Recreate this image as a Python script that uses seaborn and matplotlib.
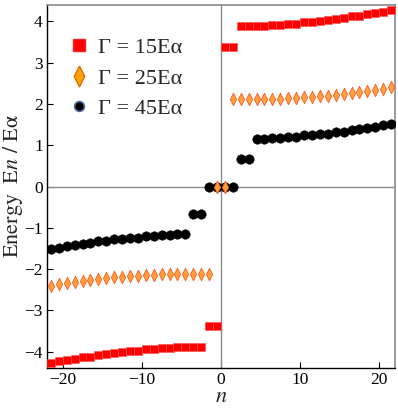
import numpy as np
import pandas as pd
import matplotlib
matplotlib.use("Agg")
import matplotlib.pyplot as plt
from matplotlib.lines import Line2D
import seaborn as sns

# ------------------------------------------------------------
# Data (n sits on half-integers)
# ------------------------------------------------------------
n_vals = [-21.5, -20.5, -19.5, -18.5, -17.5, -16.5, -15.5, -14.5, -13.5, -12.5,
          -11.5, -10.5, -9.5, -8.5, -7.5, -6.5, -5.5, -4.5, -3.5, -2.5,
          -1.5, -0.5, 0.5, 1.5,
          2.5, 3.5, 4.5, 5.5, 6.5, 7.5, 8.5, 9.5, 10.5, 11.5,
          12.5, 13.5, 14.5, 15.5, 16.5, 17.5, 18.5, 19.5, 20.5, 21.5]

# Gamma = 15 E_alpha (red squares)
energy_15 = [-4.27, -4.23, -4.20, -4.19, -4.14, -4.13, -4.09, -4.07, -4.04, -4.02,
             -3.99, -3.98, -3.94, -3.94, -3.91, -3.91, -3.90, -3.90, -3.88, -3.88,
             -3.39, -3.39, 3.39, 3.39,
             3.88, 3.88, 3.90, 3.90, 3.91, 3.91, 3.94, 3.94, 3.98, 3.99,
             4.02, 4.04, 4.07, 4.09, 4.13, 4.14, 4.19, 4.20, 4.23, 4.27]

# Gamma = 25 E_alpha (orange diamonds)
energy_25 = [-2.42, -2.37, -2.34, -2.31, -2.28, -2.26, -2.24, -2.22, -2.20, -2.19,
             -2.17, -2.16, -2.15, -2.14, -2.13, -2.13, -2.12, -2.12, -2.12, -2.11,
             -2.11, 0.0, 0.0, 2.11,
             2.11, 2.12, 2.12, 2.12, 2.13, 2.13, 2.14, 2.15, 2.16, 2.17,
             2.19, 2.20, 2.22, 2.24, 2.26, 2.28, 2.31, 2.34, 2.37, 2.42]

# Gamma = 45 E_alpha (black circles)
energy_45 = [-1.51, -1.49, -1.44, -1.42, -1.39, -1.36, -1.33, -1.31, -1.28, -1.28,
             -1.26, -1.24, -1.21, -1.21, -1.18, -1.18, -1.15, -1.15, -0.66, -0.66,
             0.0, 0.0, 0.0, 0.0,
             0.66, 0.66, 1.15, 1.15, 1.18, 1.18, 1.21, 1.21, 1.24, 1.26,
             1.28, 1.28, 1.31, 1.33, 1.36, 1.39, 1.42, 1.44, 1.49, 1.51]

labels = ["Γ = 15Eα", "Γ = 25Eα", "Γ = 45Eα"]

df = pd.DataFrame({"n": n_vals, "g15": energy_15, "g25": energy_25, "g45": energy_45})

# narrow, tall diamond like the Mathematica one
thin_diamond = [(0, 1), (0.5, 0), (0, -1), (-0.5, 0), (0, 1)]

# ------------------------------------------------------------
# Style
# ------------------------------------------------------------
sns.set_theme(style="white")
plt.rcParams["font.family"] = ["Liberation Serif", "DejaVu Serif"]
plt.rcParams["mathtext.fontset"] = "stix"

fig = plt.figure(figsize=(3.98, 4.09), dpi=100)
ax = fig.add_axes([0.118, 0.1002, 0.8745, 0.8876])

ax.axhline(0, color="#8a8a8a", lw=1.0, zorder=1)
ax.axvline(0, color="#8a8a8a", lw=1.0, zorder=1)

# red, then black, then orange so the diamonds sit on top at E = 0
sns.scatterplot(data=df, x="n", y="g15", marker="s", s=36, color="#ff0000",
                edgecolor="#ff5050", linewidth=0.4, ax=ax, zorder=3, legend=False)
sns.scatterplot(data=df, x="n", y="g45", marker="o", s=46, color="black",
                edgecolor="black", linewidth=0.4, ax=ax, zorder=3, legend=False)
sns.scatterplot(data=df, x="n", y="g25", marker=thin_diamond, s=80, color="#ffa040",
                edgecolor="#ff5a1e", linewidth=0.6, ax=ax, zorder=4, legend=False)

ax.set_xlim(-22, 22)
ax.set_ylim(-4.4, 4.4)
ax.set_xticks([-20, -10, 0, 10, 20])
ax.set_yticks([-4, -3, -2, -1, 0, 1, 2, 3, 4])
ax.tick_params(direction="in", length=4, width=0.8, labelsize=12.5,
               left=True, bottom=True, colors="black", pad=3)
for lab in ax.get_xticklabels() + ax.get_yticklabels():
    lab.set_fontfamily(["Liberation Serif", "DejaVu Serif"])

for side in ["left", "bottom"]:
    ax.spines[side].set_color("black")
    ax.spines[side].set_linewidth(1.0)
for side in ["top", "right"]:
    ax.spines[side].set_color("#8a8a8a")
    ax.spines[side].set_linewidth(1.2)

ax.set_xlabel("$n$", fontsize=16, labelpad=0)
ax.set_ylabel(r"$\mathrm{Energy\ \ E}n\mathrm{\ /\ E\alpha}$", fontsize=16)
ax.yaxis.set_label_coords(-0.063, 0.5)

handles = [
    Line2D([], [], marker="s", ls="", ms=8, color="#ff0000", mec="#ff2020"),
    Line2D([], [], marker=thin_diamond, ls="", ms=15, color="#ffa500", mec="#e06a00", mew=1.0),
    Line2D([], [], marker="o", ls="", ms=7, color="black", mec="#4a6a9a", mew=1.2),
]
ax.legend(handles, labels, loc="upper left", bbox_to_anchor=(0.035, 0.935),
          frameon=False, fontsize=16, handlelength=1.0, handletextpad=0.35,
          labelspacing=0.45, borderaxespad=0.0)

fig.savefig("out.png", dpi=100)
